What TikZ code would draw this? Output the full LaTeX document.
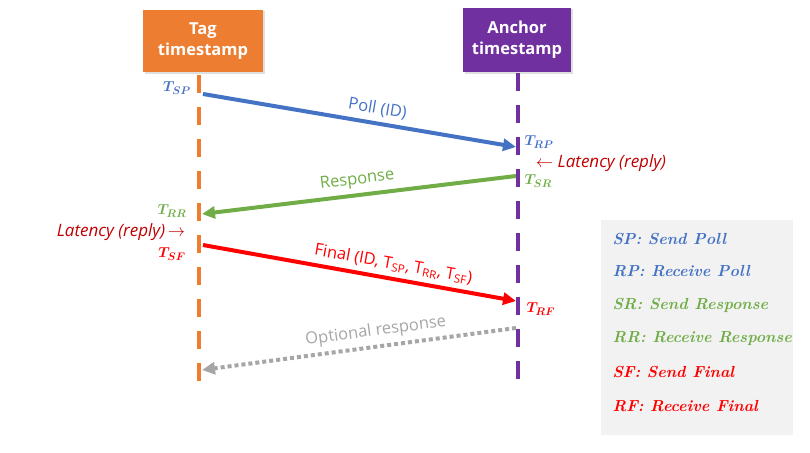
\documentclass[tikz,border=0pt]{standalone}
\usepackage{amsmath,fontspec}
\usetikzlibrary{arrows.meta,shadows}
\newfontfamily\labelfont{Open Sans}
\definecolor{tagorange}{HTML}{ED7D31}
\definecolor{anchorpurple}{HTML}{7030A0}
\definecolor{pollblue}{HTML}{4472C4}
\definecolor{respgreen}{HTML}{70AD47}
\definecolor{finalred}{HTML}{FF0000}
\definecolor{latred}{HTML}{C00000}
\definecolor{optgray}{HTML}{A6A6A6}
\definecolor{legendgray}{HTML}{F2F2F2}
\begin{document}
\begin{tikzpicture}[x=1pt,y=1pt,
	lifeline/.style={line width=4.5pt,dash pattern=on 18pt off 14pt},
	msg/.style={line width=4pt,-{Triangle[length=13pt,width=12pt]}},
	boxlabel/.style={text=white,align=center,font=\labelfont\bfseries\fontsize{16.5}{21}\selectfont,minimum width=120pt,minimum height=62pt,drop shadow={shadow xshift=1.5pt,shadow yshift=-1.5pt,opacity=0.25}},
	msglabel/.style={font=\labelfont\fontsize{16.5}{18}\selectfont,sloped,above,inner sep=5pt},
	stamp/.style={font=\fontsize{15}{17}\selectfont},
	lat/.style={text=latred,font=\labelfont\itshape\fontsize{17}{19}\selectfont},
	legend/.style={anchor=west,font=\bfseries\itshape\fontsize{16}{18}\selectfont}]
	\useasboundingbox (0,0) rectangle (810,-452);
	% lifeline heads
	\node[boxlabel,fill=tagorange] (tag) at (203,-41) {Tag\\timestamp};
	\node[boxlabel,fill=anchorpurple,minimum width=108pt,minimum height=64pt] (anchor) at (517,-40) {Anchor\\timestamp};
	\coordinate (tagtop) at (199,-75);
	\coordinate (tagend) at (199,-386);
	\coordinate (anctop) at (518,-73);
	\coordinate (ancend) at (518,-386);
	\draw[lifeline,tagorange] (tagtop) -- (tagend);
	\draw[lifeline,anchorpurple] (anctop) -- (ancend);
	% message ends
	\coordinate (sp) at (203,-94);
	\coordinate (rp) at (516,-147);
	\coordinate (sr) at (516,-176);
	\coordinate (rr) at (202,-214);
	\coordinate (sf) at (203,-245);
	\coordinate (rf) at (516,-301);
	\coordinate (so) at (516,-328);
	\coordinate (ro) at (202,-370);
	\draw[msg,pollblue] (sp) -- node[msglabel,pos=0.55] {Poll (ID)} (rp);
	\draw[msg,respgreen] (sr) -- node[msglabel,pos=0.5] {Response} (rr);
	\draw[msg,finalred] (sf) -- node[msglabel,pos=0.6] {Final (ID, T\textsubscript{SP}, T\textsubscript{RR}, T\textsubscript{SF})} (rf);
	\draw[msg,optgray,dash pattern=on 4pt off 3pt] (so) -- node[msglabel,pos=0.44] {Optional response} (ro);
	% timestamps
	\node[stamp,text=pollblue] (tsp) at (177,-88) {$\boldsymbol{T_{SP}}$};
	\node[stamp,text=pollblue,anchor=west] (trp) at (521,-142) {$\boldsymbol{T_{RP}}$};
	\node[stamp,text=respgreen,anchor=west] (tsr) at (521,-181) {$\boldsymbol{T_{SR}}$};
	\node[stamp,text=respgreen] (trr) at (172,-211) {$\boldsymbol{T_{RR}}$};
	\node[stamp,text=finalred] (tsf) at (172,-254) {$\boldsymbol{T_{SF}}$};
	\node[stamp,text=finalred,anchor=west] (trf) at (523,-309) {$\boldsymbol{T_{RF}}$};
	\node[lat] (latanc) at (601,-163) {$\leftarrow$ Latency (reply)};
	\node[lat] (lattag) at (121,-232) {Latency (reply)\,$\rightarrow$};
	% legend
	\fill[legendgray] (601,-220) rectangle (793,-435);
	\node[legend,text=pollblue] (lsp) at (609,-239) {SP: Send Poll};
	\node[legend,text=pollblue] (lrp) at (609,-271) {RP: Receive Poll};
	\node[legend,text=respgreen] (lsr) at (609,-305) {SR: Send Response};
	\node[legend,text=respgreen] (lrr) at (609,-339) {RR: Receive Response};
	\node[legend,text=finalred] (lsf) at (609,-372) {SF: Send Final};
	\node[legend,text=finalred] (lrf) at (609,-406) {RF: Receive Final};
\end{tikzpicture}
\end{document}
